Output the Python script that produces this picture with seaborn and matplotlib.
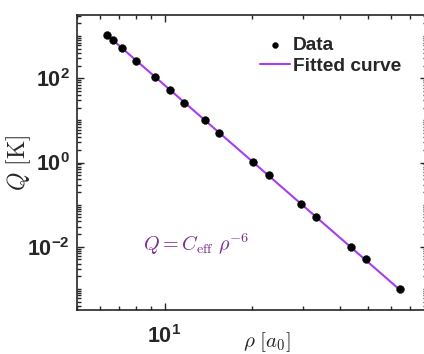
import numpy as np
import pandas as pd
import matplotlib
matplotlib.use("Agg")
import matplotlib.pyplot as plt
import matplotlib.ticker as mticker
import seaborn as sns

# ---- data ----
rho = [6.34, 6.66, 7.12, 7.98, 9.31, 10.46, 11.7, 13.8, 15.4,
       20.2, 22.8, 29.6, 33.3, 43.7, 49.2, 64.4]
Q = [1040, 790, 520, 252, 104, 52, 25.6, 10.2, 5.1,
     1.03, 0.51, 0.101, 0.050, 0.0100, 0.0050, 0.00101]
y_major = [1e-2, 1e0, 1e2]
y_major_labels = [r"$10^{-2}$", r"$10^{0}$", r"$10^{2}$"]
x_major = [10]
x_major_labels = [r"$10^{1}$"]

sns.set_theme(style="ticks")
plt.rcParams["font.family"] = ["Liberation Sans", "DejaVu Sans"]
plt.rcParams["mathtext.fontset"] = "custom"
plt.rcParams["mathtext.rm"] = "Liberation Sans:bold"
plt.rcParams["mathtext.it"] = "Liberation Sans:bold"
plt.rcParams["mathtext.bf"] = "Liberation Sans:bold"

df = pd.DataFrame({"rho": rho, "Q": Q})
# fit Q = C * rho^-6 in log space
logC = np.mean(np.log10(df["Q"]) + 6 * np.log10(df["rho"]))
fit = pd.DataFrame({"rho": [rho[0], rho[-1]]})
fit["Q"] = 10 ** logC * fit["rho"] ** -6

fig = plt.figure(figsize=(4.24, 3.54), dpi=100)
W, H = 424, 354
ax = fig.add_axes([77 / W, 44 / H, (427 - 77) / W, (310 - 15) / H])

line_color = "#A83CF0"
sns.lineplot(data=fit, x="rho", y="Q", ax=ax, color=line_color, lw=1.5,
             label="Fitted curve", zorder=2)
sns.scatterplot(data=df, x="rho", y="Q", ax=ax, color="black", s=32,
                edgecolor="black", linewidth=0.3, label="Data", zorder=3)

ax.set_xscale("log")
ax.set_yscale("log")
ax.set_xlim(5, 80)
ax.set_ylim(10 ** -3.5, 10 ** 3.5)

# ticks
ax.yaxis.set_major_locator(mticker.FixedLocator(y_major))
ax.yaxis.set_major_formatter(mticker.FixedFormatter(y_major_labels))
yminor = [m * 10.0 ** k for k in range(-4, 4) for m in range(1, 10)]
yminor = [v for v in yminor if v not in y_major]
ax.yaxis.set_minor_locator(mticker.FixedLocator(yminor))
ax.yaxis.set_minor_formatter(mticker.NullFormatter())

ax.xaxis.set_major_locator(mticker.FixedLocator(x_major))
ax.xaxis.set_major_formatter(mticker.FixedFormatter(x_major_labels))
xminor = [m * 10.0 ** k for k in range(0, 3) for m in range(1, 10)]
xminor = [v for v in xminor if v not in x_major]
ax.xaxis.set_minor_locator(mticker.FixedLocator(xminor))
ax.xaxis.set_minor_formatter(mticker.NullFormatter())

spine_c = "#262626"
for s in ax.spines.values():
    s.set_visible(True)
    s.set_color(spine_c)
    s.set_linewidth(1.2)
ax.tick_params(which="both", direction="in", top=True, right=True,
               color=spine_c, width=1.0, labelcolor="#262626")
ax.tick_params(which="major", length=5, labelsize=15.5)
ax.tick_params(axis="y", which="major", pad=5)
ax.tick_params(axis="x", which="major", pad=11)
ax.tick_params(which="minor", length=3)
ax.grid(False)

ax.set_xlabel(r"$\rho\ [a_0]$", fontsize=15, math_fontfamily="cm")
ax.set_ylabel(r"$Q\ [\mathrm{K}]$", fontsize=17, math_fontfamily="cm")
ax.xaxis.set_label_coords((267 - 77) / 350, -0.068)
ax.yaxis.set_label_coords(-0.125, 0.5)

ax.text(0.188, 0.222, r"$Q = C_{\rm eff}\ \rho^{-6}$", transform=ax.transAxes,
        fontsize=14.5, color="#7E2F8E", math_fontfamily="cm", va="center", ha="left")

handles, labels = ax.get_legend_handles_labels()
order = [labels.index("Data"), labels.index("Fitted curve")]
leg = ax.legend([handles[i] for i in order], [labels[i] for i in order],
                loc="upper left", bbox_to_anchor=(260 / W, 1 - 37 / H),
                bbox_transform=fig.transFigure, frameon=False,
                prop={"family": "Liberation Sans", "weight": "bold", "size": 13.8},
                handlelength=1.55, handletextpad=0.15, labelspacing=0.15,
                borderpad=0, borderaxespad=0, markerscale=0.75)

fig.savefig("out.png", dpi=100)
